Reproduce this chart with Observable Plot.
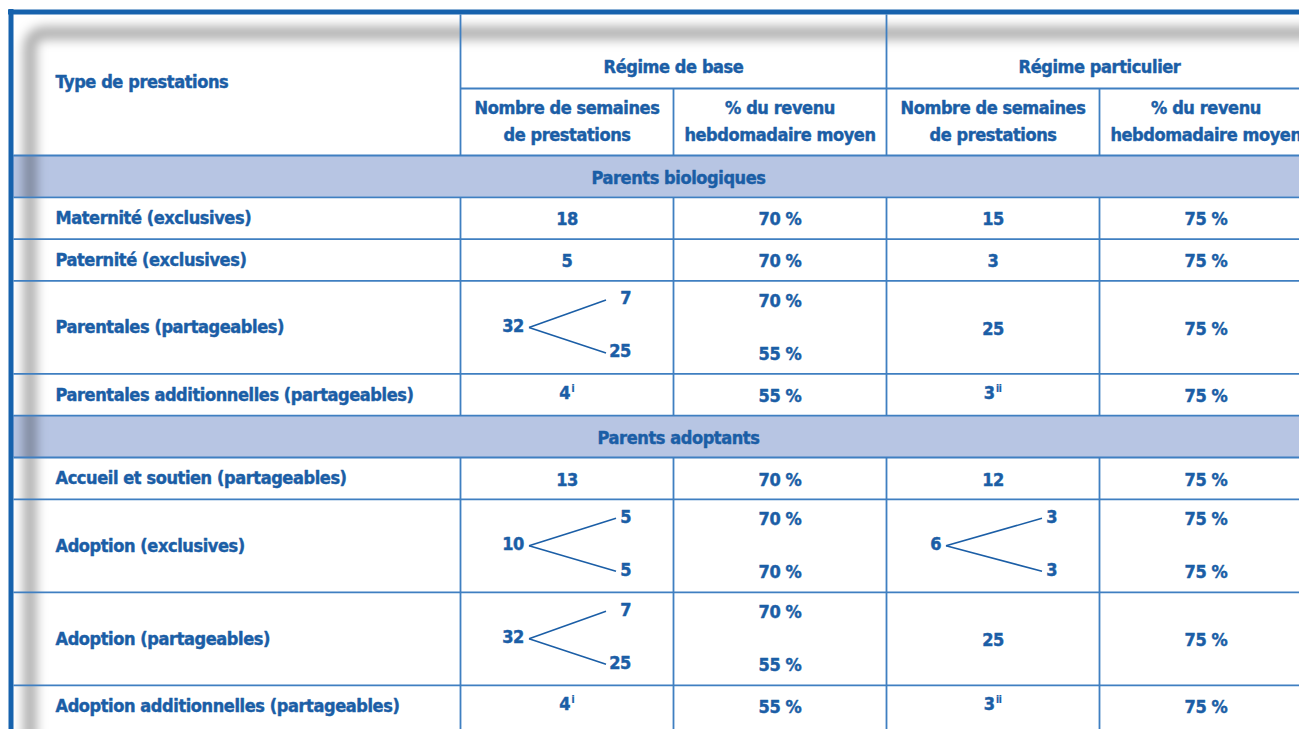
<!DOCTYPE html>
<html><head><meta charset="utf-8">
<script src="https://cdn.jsdelivr.net/npm/d3@7"></script>
<script src="https://cdn.jsdelivr.net/npm/@observablehq/plot@0.6"></script>
<style>html,body{margin:0;padding:0;background:#fff;overflow:hidden} svg text{letter-spacing:-0.4px}</style>
</head><body><div id="chart"></div>
<script>
// ---------- DATA ----------
const headerType = "Type de prestations";
const regimes = ["Régime de base", "Régime particulier"];
const subHeaders = ["Nombre de semaines\nde prestations", "% du revenu\nhebdomadaire moyen"];
const sections = ["Parents biologiques", "Parents adoptants"];
const prestations = [
  "Maternité (exclusives)",
  "Paternité (exclusives)",
  "Parentales (partageables)",
  "Parentales additionnelles (partageables)",
  "Accueil et soutien (partageables)",
  "Adoption (exclusives)",
  "Adoption (partageables)",
  "Adoption additionnelles (partageables)"
];
const sectionOf = [0, 0, 0, 0, 1, 1, 1, 1];
const semainesBase = [18, 5, 32, 4, 13, 10, 32, 4];
const semainesBaseSplit = [null, null, [7, 25], null, null, [5, 5], [7, 25], null];
const notesBase = ["", "", "", "i", "", "", "", "i"];
const pctBase = [[70], [70], [70, 55], [55], [70], [70, 70], [70, 55], [55]];
const semainesPart = [15, 3, 25, 3, 12, 6, 25, 3];
const semainesPartSplit = [null, null, null, null, null, [3, 3], null, null];
const notesPart = ["", "", "", "ii", "", "", "", "ii"];
const pctPart = [[75], [75], [75], [75], [75], [75, 75], [75], [75]];

// ---------- LAYOUT ----------
const W = 1299, H = 729;
const colEdges = [13, 460, 673, 886, 1099, 1312];
const colCenter = k => (colEdges[k] + colEdges[k + 1]) / 2;
const topY = 14, subTop = 88, headBottom = 155;
const rowH = 41.8, tallH = 93, bandH = 41.8;
const labelX = 55, bandTextX = 678;
const branchStart = {1: -38, 3: -47};
const TEXT = "#1b5ea6", LINE = "#3f7fc1", BAND = "#b7c5e3", BORDER = "#1662ad";
const FONT = '"DejaVu Sans Condensed", "DejaVu Sans", sans-serif';

const isTall = i => pctBase[i].length > 1 || pctPart[i].length > 1 || semainesBaseSplit[i] || semainesPartSplit[i];

let yCur = headBottom;
const bands = [], rows = [];
sections.forEach((s, si) => {
  bands.push({label: s, y1: yCur, y2: yCur + bandH});
  yCur += bandH;
  prestations.forEach((p, i) => {
    if (sectionOf[i] !== si) return;
    const h = isTall(i) ? tallH : rowH;
    rows.push({i, si, y1: yCur, y2: yCur + h});
    yCur += h;
  });
});

const textsStart = [], textsMiddle = [], textsEnd = [], sups = [], branches = [], hlines = [], vlines = [];

// header
textsStart.push({x: labelX, y: 82, t: headerType});
regimes.forEach((r, k) => {
  textsMiddle.push({x: (colEdges[1 + 2 * k] + colEdges[3 + 2 * k]) / 2, y: 63.5, t: r});
  subHeaders.forEach((s, j) => textsMiddle.push({x: colCenter(1 + 2 * k + j), y: 118.5, t: s}));
});
hlines.push({x1: colEdges[1], x2: W, y: subTop});
hlines.push({x1: colEdges[0], x2: W, y: headBottom});
[1, 3].forEach(k => vlines.push({x: colEdges[k], y1: topY, y2: headBottom}));
[2, 4].forEach(k => vlines.push({x: colEdges[k], y1: subTop, y2: headBottom}));

// bands
bands.forEach(b => {
  textsMiddle.push({x: bandTextX, y: (b.y1 + b.y2) / 2 - 1.5, t: b.label});
  hlines.push({x1: colEdges[0], x2: W, y: b.y2});
});
sections.forEach((s, si) => {
  const rs = rows.filter(r => r.si === si);
  const yEnd = si === sections.length - 1 ? H : rs[rs.length - 1].y2;
  [1, 2, 3, 4].forEach(k => vlines.push({x: colEdges[k], y1: bands[si].y2, y2: yEnd}));
});

const lift = 1.5;
function weeksCell(k, r, value, split, note) {
  const c = colCenter(k), ym = (r.y1 + r.y2) / 2 - lift;
  if (split) {
    const yt = r.y1 + 19 - lift, yb = r.y2 - 21 - lift;
    const xs = c + branchStart[k];
    const rightEnd = c + 64;
    const maxDigits = Math.max(...split.map(v => String(v).length));
    const xe = rightEnd - 10 * maxDigits - 5;
    textsEnd.push({x: xs - 5, y: ym, t: String(value)});
    textsEnd.push({x: rightEnd, y: yt, t: String(split[0])});
    textsEnd.push({x: rightEnd, y: yb, t: String(split[1])});
    branches.push({x1: xs, y1: ym + lift, x2: xe, y2: yt + lift});
    branches.push({x1: xs, y1: ym + lift, x2: xe, y2: yb + lift});
  } else if (note) {
    const mainW = 10 * String(value).length, supW = 3 * note.length;
    const start = c - (mainW + 1 + supW) / 2;
    textsEnd.push({x: start + mainW, y: ym, t: String(value)});
    sups.push({x: start + mainW + 1.5, y: ym - 5, t: note});
  } else {
    textsMiddle.push({x: c, y: ym, t: String(value)});
  }
}
function pctCell(k, r, vals) {
  const c = colCenter(k), ym = (r.y1 + r.y2) / 2 - lift;
  if (vals.length > 1) {
    textsMiddle.push({x: c, y: r.y1 + 19 - lift, t: vals[0] + " %"});
    textsMiddle.push({x: c, y: r.y2 - 21 - lift, t: vals[1] + " %"});
  } else textsMiddle.push({x: c, y: ym, t: vals[0] + " %"});
}

rows.forEach((r, n) => {
  const i = r.i, ym = (r.y1 + r.y2) / 2;
  textsStart.push({x: labelX, y: ym, t: prestations[i]});
  weeksCell(1, r, semainesBase[i], semainesBaseSplit[i], notesBase[i]);
  pctCell(2, r, pctBase[i]);
  weeksCell(3, r, semainesPart[i], semainesPartSplit[i], notesPart[i]);
  pctCell(4, r, pctPart[i]);
  const isLastOfSection = n === rows.length - 1 || rows[n + 1].si !== r.si;
  if (n !== rows.length - 1 && !isLastOfSection) hlines.push({x1: colEdges[0], x2: W, y: r.y2});
});
bands.forEach((b, bi) => { if (bi > 0) hlines.push({x1: colEdges[0], x2: W, y: b.y1}); });

// inner shadow (render function using plot scales)
function shadow(index, scales) {
  const sx = scales && scales.x ? scales.x : (v => v);
  const sy = scales && scales.y ? scales.y : (v => v);
  const g = d3.create("svg:g");
  const defs = g.append("defs");
  defs.append("filter").attr("id", "shblur").attr("filterUnits", "userSpaceOnUse")
    .attr("x", 0).attr("y", 0).attr("width", W).attr("height", H)
    .append("feGaussianBlur").attr("stdDeviation", 5.5);
  defs.append("clipPath").attr("id", "shclip").append("rect")
    .attr("x", sx(colEdges[0])).attr("y", sy(topY)).attr("width", W).attr("height", H);
  const x0 = sx(30), y0 = sy(33), r = 16;
  g.append("g").attr("clip-path", "url(#shclip)")
    .append("path")
    .attr("d", `M${x0},${sy(H) + 40} V${y0 + r} Q${x0},${y0} ${x0 + r},${y0} H${sx(W) + 40}`)
    .attr("fill", "none").attr("stroke", "#000").attr("stroke-opacity", 0.32)
    .attr("stroke-width", 13).attr("filter", "url(#shblur)");
  return g.node();
}

const common = {fill: TEXT, fontFamily: FONT, fontWeight: "bold", fontSize: 18, stroke: TEXT, strokeWidth: 0.45, paintOrder: "fill"};

const chart = Plot.plot({
  width: W, height: H, margin: 0,
  x: {domain: [0, W], range: [0, W], axis: null},
  y: {domain: [0, H], range: [0, H], axis: null},
  style: {background: "#fff"},
  marks: [
    Plot.rect(bands, {x1: colEdges[0], x2: W, y1: "y1", y2: "y2", fill: BAND}),
    shadow,
    Plot.link(hlines, {x1: "x1", x2: "x2", y1: "y", y2: "y", stroke: LINE, strokeWidth: 1.8}),
    Plot.link(vlines, {x1: "x", x2: "x", y1: "y1", y2: "y2", stroke: LINE, strokeWidth: 1.8}),
    Plot.link(branches, {x1: "x1", x2: "x2", y1: "y1", y2: "y2", stroke: TEXT, strokeWidth: 1.6}),
    Plot.ruleX([10.5], {y1: 9, y2: H, stroke: BORDER, strokeWidth: 5}),
    Plot.ruleY([11.5], {x1: 8, x2: W, stroke: BORDER, strokeWidth: 5}),
    Plot.text(textsStart, {x: "x", y: "y", text: "t", textAnchor: "start", ...common}),
    Plot.text(textsMiddle, {x: "x", y: "y", text: "t", textAnchor: "middle", lineHeight: 1.5, ...common}),
    Plot.text(textsEnd, {x: "x", y: "y", text: "t", textAnchor: "end", ...common}),
    Plot.text(sups, {x: "x", y: "y", text: "t", textAnchor: "start", ...common, fontSize: 10, strokeWidth: 0.2})
  ]
});
document.getElementById("chart").appendChild(chart);
</script>
</body></html>
